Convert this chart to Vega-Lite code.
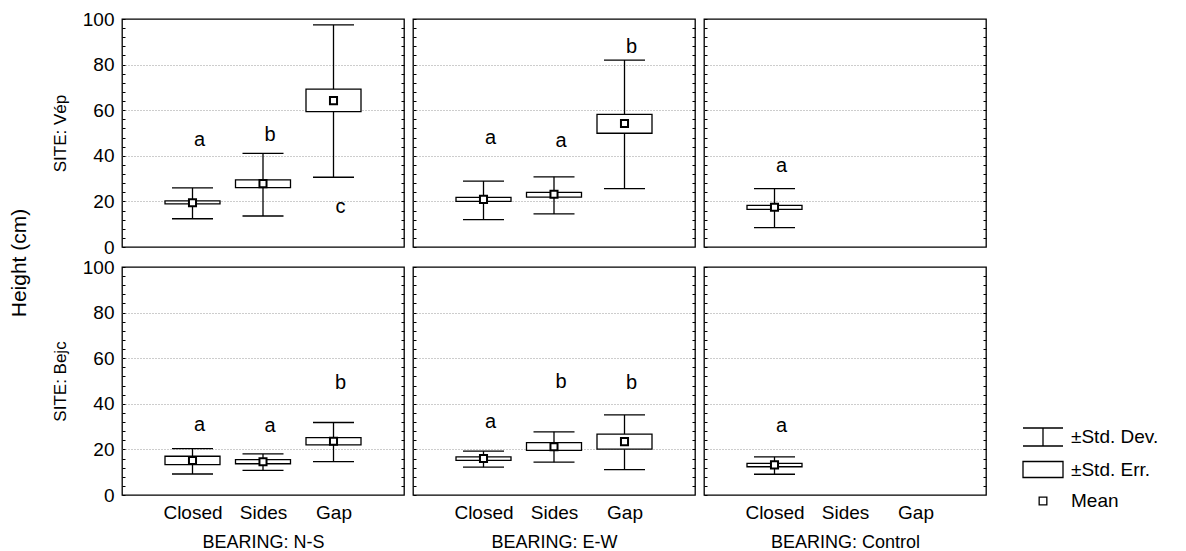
{
  "$schema": "https://vega.github.io/schema/vega-lite/v6.json",
  "padding": {"left": 0, "top": 9, "right": 5, "bottom": 0},
  "data": {"values": [
    {"site": "Vép", "bearing": "N-S", "cond": "Closed", "mean": 19.4, "se_lo": 18.9, "se_hi": 20.2, "sd_lo": 12.4, "sd_hi": 25.9, "letter": "a", "letter_y": 44.3},
    {"site": "Vép", "bearing": "N-S", "cond": "Sides", "mean": 27.8, "se_lo": 26.0, "se_hi": 29.4, "sd_lo": 13.6, "sd_hi": 41.1, "letter": "b", "letter_y": 46.6},
    {"site": "Vép", "bearing": "N-S", "cond": "Gap", "mean": 64.2, "se_lo": 59.4, "se_hi": 69.2, "sd_lo": 30.6, "sd_hi": 97.4, "letter": "c", "letter_y": 14.8},
    {"site": "Vép", "bearing": "E-W", "cond": "Closed", "mean": 20.9, "se_lo": 20.0, "se_hi": 21.8, "sd_lo": 12.0, "sd_hi": 28.9, "letter": "a", "letter_y": 45.0},
    {"site": "Vép", "bearing": "E-W", "cond": "Sides", "mean": 23.1, "se_lo": 21.9, "se_hi": 24.0, "sd_lo": 14.5, "sd_hi": 30.8, "letter": "a", "letter_y": 44.0},
    {"site": "Vép", "bearing": "E-W", "cond": "Gap", "mean": 54.2, "se_lo": 49.9, "se_hi": 58.2, "sd_lo": 25.6, "sd_hi": 82.0, "letter": "b", "letter_y": 85.0},
    {"site": "Vép", "bearing": "Control", "cond": "Closed", "mean": 17.4, "se_lo": 16.5, "se_hi": 18.3, "sd_lo": 8.5, "sd_hi": 25.6, "letter": "a", "letter_y": 32.8},
    {"site": "Bejc", "bearing": "N-S", "cond": "Closed", "mean": 15.1, "se_lo": 13.3, "se_hi": 17.0, "sd_lo": 9.2, "sd_hi": 20.3, "letter": "a", "letter_y": 28.2},
    {"site": "Bejc", "bearing": "N-S", "cond": "Sides", "mean": 14.6, "se_lo": 13.7, "se_hi": 15.5, "sd_lo": 10.8, "sd_hi": 18.0, "letter": "a", "letter_y": 27.5},
    {"site": "Bejc", "bearing": "N-S", "cond": "Gap", "mean": 23.6, "se_lo": 22.0, "se_hi": 25.2, "sd_lo": 14.6, "sd_hi": 31.8, "letter": "b", "letter_y": 46.6},
    {"site": "Bejc", "bearing": "E-W", "cond": "Closed", "mean": 16.0, "se_lo": 15.2, "se_hi": 16.7, "sd_lo": 12.2, "sd_hi": 19.2, "letter": "a", "letter_y": 29.3},
    {"site": "Bejc", "bearing": "E-W", "cond": "Sides", "mean": 21.2, "se_lo": 19.6, "se_hi": 23.0, "sd_lo": 14.4, "sd_hi": 27.7, "letter": "b", "letter_y": 47.1},
    {"site": "Bejc", "bearing": "E-W", "cond": "Gap", "mean": 23.4, "se_lo": 20.1, "se_hi": 26.7, "sd_lo": 11.1, "sd_hi": 35.1, "letter": "b", "letter_y": 46.4},
    {"site": "Bejc", "bearing": "Control", "cond": "Closed", "mean": 13.2, "se_lo": 12.4, "se_hi": 13.9, "sd_lo": 9.1, "sd_hi": 16.7, "letter": "a", "letter_y": 27.8}
  ]},
  "spacing": 10,
  "hconcat": [
    {
      "width": 40, "height": 488,
      "view": {"stroke": null},
      "data": {"values": [{"t": "Height (cm)"}]},
      "mark": {"type": "text", "angle": 270, "fontSize": 21, "color": "black", "font": "Liberation Sans"},
      "encoding": {"text": {"field": "t"}}
    },
    {
      "columns": 3,
      "spacing": {"row": 20, "column": 9},
      "bounds": "flush",
      "concat": [
        {
          "width": 282, "height": 228,
          "transform": [{"filter": "datum.site === 'Vép' && datum.bearing === 'N-S'"}],
          "layer": [
            {"mark": {"type": "rule", "opacity": 0}, "encoding": {"y": {"datum": 0, "type": "quantitative", "scale": {"domain": [0, 100], "nice": false, "zero": false}, "axis": {"orient": "right", "values": [4,8,12,16,20,24,28,32,36,40,44,48,52,56,60,64,68,72,76,80,84,88,92,96], "labels": false, "domain": false, "grid": false, "tickSize": -3, "title": null}}}},
            {"mark": {"type": "rule", "color": "black", "strokeWidth": 1.3}, "encoding": {
              "x": {"field": "cond", "type": "nominal", "scale": {"type": "point", "domain": ["Closed", "Sides", "Gap"], "padding": 1}, "axis": null},
              "y": {"field": "sd_lo", "type": "quantitative", "scale": {"domain": [0, 100], "nice": false, "zero": false}, "axis": {"orient": "left", "values": [0,4,8,12,16,20,24,28,32,36,40,44,48,52,56,60,64,68,72,76,80,84,88,92,96,100], "labelExpr": "datum.value % 20 === 0 ? datum.label : ''", "labelOverlap": false, "labelFontSize": 19, "labelPadding": 11, "tickSize": -3, "domain": false, "grid": true, "gridOpacity": {"condition": {"test": "datum.value % 20 === 0 && datum.value > 0 && datum.value < 100", "value": 1}, "value": 0}, "title": "SITE: Vép", "titleFontSize": 17, "titlePadding": 13}},
              "y2": {"field": "sd_hi"}}},
            {"mark": {"type": "tick", "orient": "horizontal", "size": 41, "thickness": 1.3, "color": "black", "opacity": 1}, "encoding": {"x": {"field": "cond", "type": "nominal", "axis": null}, "y": {"field": "sd_lo", "type": "quantitative", "axis": null}}},
            {"mark": {"type": "tick", "orient": "horizontal", "size": 41, "thickness": 1.3, "color": "black", "opacity": 1}, "encoding": {"x": {"field": "cond", "type": "nominal", "axis": null}, "y": {"field": "sd_hi", "type": "quantitative", "axis": null}}},
            {"mark": {"type": "bar", "width": 55, "fill": "white", "stroke": "black", "strokeWidth": 1.3}, "encoding": {"x": {"field": "cond", "type": "nominal", "axis": null}, "y": {"field": "se_lo", "type": "quantitative", "axis": null}, "y2": {"field": "se_hi"}}},
            {"mark": {"type": "square", "size": 50, "filled": true, "fill": "white", "stroke": "black", "strokeWidth": 2, "opacity": 1}, "encoding": {"x": {"field": "cond", "type": "nominal", "axis": null}, "y": {"field": "mean", "type": "quantitative", "axis": null}}},
            {"mark": {"type": "text", "fontSize": 20, "dx": 7, "baseline": "alphabetic", "color": "black"}, "encoding": {"x": {"field": "cond", "type": "nominal", "axis": null}, "y": {"field": "letter_y", "type": "quantitative", "axis": null}, "text": {"field": "letter"}}}
          ],
          "resolve": {"axis": {"x": "independent", "y": "independent"}}
        },
        {
          "width": 282, "height": 228,
          "transform": [{"filter": "datum.site === 'Vép' && datum.bearing === 'E-W'"}],
          "layer": [
            {"mark": {"type": "rule", "opacity": 0}, "encoding": {"y": {"datum": 0, "type": "quantitative", "scale": {"domain": [0, 100], "nice": false, "zero": false}, "axis": {"orient": "right", "values": [4,8,12,16,20,24,28,32,36,40,44,48,52,56,60,64,68,72,76,80,84,88,92,96], "labels": false, "domain": false, "grid": false, "tickSize": -3, "title": null}}}},
            {"mark": {"type": "rule", "color": "black", "strokeWidth": 1.3}, "encoding": {
              "x": {"field": "cond", "type": "nominal", "scale": {"type": "point", "domain": ["Closed", "Sides", "Gap"], "padding": 1}, "axis": null},
              "y": {"field": "sd_lo", "type": "quantitative", "scale": {"domain": [0, 100], "nice": false, "zero": false}, "axis": {"orient": "left", "values": [0,4,8,12,16,20,24,28,32,36,40,44,48,52,56,60,64,68,72,76,80,84,88,92,96,100], "labels": false, "tickSize": -3, "domain": false, "grid": true, "gridOpacity": {"condition": {"test": "datum.value % 20 === 0 && datum.value > 0 && datum.value < 100", "value": 1}, "value": 0}, "title": null}},
              "y2": {"field": "sd_hi"}}},
            {"mark": {"type": "tick", "orient": "horizontal", "size": 41, "thickness": 1.3, "color": "black", "opacity": 1}, "encoding": {"x": {"field": "cond", "type": "nominal", "axis": null}, "y": {"field": "sd_lo", "type": "quantitative", "axis": null}}},
            {"mark": {"type": "tick", "orient": "horizontal", "size": 41, "thickness": 1.3, "color": "black", "opacity": 1}, "encoding": {"x": {"field": "cond", "type": "nominal", "axis": null}, "y": {"field": "sd_hi", "type": "quantitative", "axis": null}}},
            {"mark": {"type": "bar", "width": 55, "fill": "white", "stroke": "black", "strokeWidth": 1.3}, "encoding": {"x": {"field": "cond", "type": "nominal", "axis": null}, "y": {"field": "se_lo", "type": "quantitative", "axis": null}, "y2": {"field": "se_hi"}}},
            {"mark": {"type": "square", "size": 50, "filled": true, "fill": "white", "stroke": "black", "strokeWidth": 2, "opacity": 1}, "encoding": {"x": {"field": "cond", "type": "nominal", "axis": null}, "y": {"field": "mean", "type": "quantitative", "axis": null}}},
            {"mark": {"type": "text", "fontSize": 20, "dx": 7, "baseline": "alphabetic", "color": "black"}, "encoding": {"x": {"field": "cond", "type": "nominal", "axis": null}, "y": {"field": "letter_y", "type": "quantitative", "axis": null}, "text": {"field": "letter"}}}
          ],
          "resolve": {"axis": {"x": "independent", "y": "independent"}}
        },
        {
          "width": 282, "height": 228,
          "transform": [{"filter": "datum.site === 'Vép' && datum.bearing === 'Control'"}],
          "layer": [
            {"mark": {"type": "rule", "opacity": 0}, "encoding": {"y": {"datum": 0, "type": "quantitative", "scale": {"domain": [0, 100], "nice": false, "zero": false}, "axis": {"orient": "right", "values": [4,8,12,16,20,24,28,32,36,40,44,48,52,56,60,64,68,72,76,80,84,88,92,96], "labels": false, "domain": false, "grid": false, "tickSize": -3, "title": null}}}},
            {"mark": {"type": "rule", "color": "black", "strokeWidth": 1.3}, "encoding": {
              "x": {"field": "cond", "type": "nominal", "scale": {"type": "point", "domain": ["Closed", "Sides", "Gap"], "padding": 1}, "axis": null},
              "y": {"field": "sd_lo", "type": "quantitative", "scale": {"domain": [0, 100], "nice": false, "zero": false}, "axis": {"orient": "left", "values": [0,4,8,12,16,20,24,28,32,36,40,44,48,52,56,60,64,68,72,76,80,84,88,92,96,100], "labels": false, "tickSize": -3, "domain": false, "grid": true, "gridOpacity": {"condition": {"test": "datum.value % 20 === 0 && datum.value > 0 && datum.value < 100", "value": 1}, "value": 0}, "title": null}},
              "y2": {"field": "sd_hi"}}},
            {"mark": {"type": "tick", "orient": "horizontal", "size": 41, "thickness": 1.3, "color": "black", "opacity": 1}, "encoding": {"x": {"field": "cond", "type": "nominal", "axis": null}, "y": {"field": "sd_lo", "type": "quantitative", "axis": null}}},
            {"mark": {"type": "tick", "orient": "horizontal", "size": 41, "thickness": 1.3, "color": "black", "opacity": 1}, "encoding": {"x": {"field": "cond", "type": "nominal", "axis": null}, "y": {"field": "sd_hi", "type": "quantitative", "axis": null}}},
            {"mark": {"type": "bar", "width": 55, "fill": "white", "stroke": "black", "strokeWidth": 1.3}, "encoding": {"x": {"field": "cond", "type": "nominal", "axis": null}, "y": {"field": "se_lo", "type": "quantitative", "axis": null}, "y2": {"field": "se_hi"}}},
            {"mark": {"type": "square", "size": 50, "filled": true, "fill": "white", "stroke": "black", "strokeWidth": 2, "opacity": 1}, "encoding": {"x": {"field": "cond", "type": "nominal", "axis": null}, "y": {"field": "mean", "type": "quantitative", "axis": null}}},
            {"mark": {"type": "text", "fontSize": 20, "dx": 7, "baseline": "alphabetic", "color": "black"}, "encoding": {"x": {"field": "cond", "type": "nominal", "axis": null}, "y": {"field": "letter_y", "type": "quantitative", "axis": null}, "text": {"field": "letter"}}}
          ],
          "resolve": {"axis": {"x": "independent", "y": "independent"}}
        },
        {
          "width": 282, "height": 228,
          "transform": [{"filter": "datum.site === 'Bejc' && datum.bearing === 'N-S'"}],
          "layer": [
            {"mark": {"type": "rule", "opacity": 0}, "encoding": {"y": {"datum": 0, "type": "quantitative", "scale": {"domain": [0, 100], "nice": false, "zero": false}, "axis": {"orient": "right", "values": [4,8,12,16,20,24,28,32,36,40,44,48,52,56,60,64,68,72,76,80,84,88,92,96], "labels": false, "domain": false, "grid": false, "tickSize": -3, "title": null}}}},
            {"mark": {"type": "rule", "color": "black", "strokeWidth": 1.3}, "encoding": {
              "x": {"field": "cond", "type": "nominal", "scale": {"type": "point", "domain": ["Closed", "Sides", "Gap"], "padding": 1}, "axis": {"orient": "bottom", "labelFontSize": 19, "labelPadding": 8, "labelAngle": 0, "ticks": false, "domain": false, "grid": false, "title": "BEARING: N-S", "titleFontSize": 18, "titlePadding": 11}},
              "y": {"field": "sd_lo", "type": "quantitative", "scale": {"domain": [0, 100], "nice": false, "zero": false}, "axis": {"orient": "left", "values": [0,4,8,12,16,20,24,28,32,36,40,44,48,52,56,60,64,68,72,76,80,84,88,92,96,100], "labelExpr": "datum.value % 20 === 0 ? datum.label : ''", "labelOverlap": false, "labelFontSize": 19, "labelPadding": 11, "tickSize": -3, "domain": false, "grid": true, "gridOpacity": {"condition": {"test": "datum.value % 20 === 0 && datum.value > 0 && datum.value < 100", "value": 1}, "value": 0}, "title": "SITE: Bejc", "titleFontSize": 17, "titlePadding": 13}},
              "y2": {"field": "sd_hi"}}},
            {"mark": {"type": "tick", "orient": "horizontal", "size": 41, "thickness": 1.3, "color": "black", "opacity": 1}, "encoding": {"x": {"field": "cond", "type": "nominal", "axis": null}, "y": {"field": "sd_lo", "type": "quantitative", "axis": null}}},
            {"mark": {"type": "tick", "orient": "horizontal", "size": 41, "thickness": 1.3, "color": "black", "opacity": 1}, "encoding": {"x": {"field": "cond", "type": "nominal", "axis": null}, "y": {"field": "sd_hi", "type": "quantitative", "axis": null}}},
            {"mark": {"type": "bar", "width": 55, "fill": "white", "stroke": "black", "strokeWidth": 1.3}, "encoding": {"x": {"field": "cond", "type": "nominal", "axis": null}, "y": {"field": "se_lo", "type": "quantitative", "axis": null}, "y2": {"field": "se_hi"}}},
            {"mark": {"type": "square", "size": 50, "filled": true, "fill": "white", "stroke": "black", "strokeWidth": 2, "opacity": 1}, "encoding": {"x": {"field": "cond", "type": "nominal", "axis": null}, "y": {"field": "mean", "type": "quantitative", "axis": null}}},
            {"mark": {"type": "text", "fontSize": 20, "dx": 7, "baseline": "alphabetic", "color": "black"}, "encoding": {"x": {"field": "cond", "type": "nominal", "axis": null}, "y": {"field": "letter_y", "type": "quantitative", "axis": null}, "text": {"field": "letter"}}}
          ],
          "resolve": {"axis": {"x": "independent", "y": "independent"}}
        },
        {
          "width": 282, "height": 228,
          "transform": [{"filter": "datum.site === 'Bejc' && datum.bearing === 'E-W'"}],
          "layer": [
            {"mark": {"type": "rule", "opacity": 0}, "encoding": {"y": {"datum": 0, "type": "quantitative", "scale": {"domain": [0, 100], "nice": false, "zero": false}, "axis": {"orient": "right", "values": [4,8,12,16,20,24,28,32,36,40,44,48,52,56,60,64,68,72,76,80,84,88,92,96], "labels": false, "domain": false, "grid": false, "tickSize": -3, "title": null}}}},
            {"mark": {"type": "rule", "color": "black", "strokeWidth": 1.3}, "encoding": {
              "x": {"field": "cond", "type": "nominal", "scale": {"type": "point", "domain": ["Closed", "Sides", "Gap"], "padding": 1}, "axis": {"orient": "bottom", "labelFontSize": 19, "labelPadding": 8, "labelAngle": 0, "ticks": false, "domain": false, "grid": false, "title": "BEARING: E-W", "titleFontSize": 18, "titlePadding": 11}},
              "y": {"field": "sd_lo", "type": "quantitative", "scale": {"domain": [0, 100], "nice": false, "zero": false}, "axis": {"orient": "left", "values": [0,4,8,12,16,20,24,28,32,36,40,44,48,52,56,60,64,68,72,76,80,84,88,92,96,100], "labels": false, "tickSize": -3, "domain": false, "grid": true, "gridOpacity": {"condition": {"test": "datum.value % 20 === 0 && datum.value > 0 && datum.value < 100", "value": 1}, "value": 0}, "title": null}},
              "y2": {"field": "sd_hi"}}},
            {"mark": {"type": "tick", "orient": "horizontal", "size": 41, "thickness": 1.3, "color": "black", "opacity": 1}, "encoding": {"x": {"field": "cond", "type": "nominal", "axis": null}, "y": {"field": "sd_lo", "type": "quantitative", "axis": null}}},
            {"mark": {"type": "tick", "orient": "horizontal", "size": 41, "thickness": 1.3, "color": "black", "opacity": 1}, "encoding": {"x": {"field": "cond", "type": "nominal", "axis": null}, "y": {"field": "sd_hi", "type": "quantitative", "axis": null}}},
            {"mark": {"type": "bar", "width": 55, "fill": "white", "stroke": "black", "strokeWidth": 1.3}, "encoding": {"x": {"field": "cond", "type": "nominal", "axis": null}, "y": {"field": "se_lo", "type": "quantitative", "axis": null}, "y2": {"field": "se_hi"}}},
            {"mark": {"type": "square", "size": 50, "filled": true, "fill": "white", "stroke": "black", "strokeWidth": 2, "opacity": 1}, "encoding": {"x": {"field": "cond", "type": "nominal", "axis": null}, "y": {"field": "mean", "type": "quantitative", "axis": null}}},
            {"mark": {"type": "text", "fontSize": 20, "dx": 7, "baseline": "alphabetic", "color": "black"}, "encoding": {"x": {"field": "cond", "type": "nominal", "axis": null}, "y": {"field": "letter_y", "type": "quantitative", "axis": null}, "text": {"field": "letter"}}}
          ],
          "resolve": {"axis": {"x": "independent", "y": "independent"}}
        },
        {
          "width": 282, "height": 228,
          "transform": [{"filter": "datum.site === 'Bejc' && datum.bearing === 'Control'"}],
          "layer": [
            {"mark": {"type": "rule", "opacity": 0}, "encoding": {"y": {"datum": 0, "type": "quantitative", "scale": {"domain": [0, 100], "nice": false, "zero": false}, "axis": {"orient": "right", "values": [4,8,12,16,20,24,28,32,36,40,44,48,52,56,60,64,68,72,76,80,84,88,92,96], "labels": false, "domain": false, "grid": false, "tickSize": -3, "title": null}}}},
            {"mark": {"type": "rule", "color": "black", "strokeWidth": 1.3}, "encoding": {
              "x": {"field": "cond", "type": "nominal", "scale": {"type": "point", "domain": ["Closed", "Sides", "Gap"], "padding": 1}, "axis": {"orient": "bottom", "labelFontSize": 19, "labelPadding": 8, "labelAngle": 0, "ticks": false, "domain": false, "grid": false, "title": "BEARING: Control", "titleFontSize": 18, "titlePadding": 11}},
              "y": {"field": "sd_lo", "type": "quantitative", "scale": {"domain": [0, 100], "nice": false, "zero": false}, "axis": {"orient": "left", "values": [0,4,8,12,16,20,24,28,32,36,40,44,48,52,56,60,64,68,72,76,80,84,88,92,96,100], "labels": false, "tickSize": -3, "domain": false, "grid": true, "gridOpacity": {"condition": {"test": "datum.value % 20 === 0 && datum.value > 0 && datum.value < 100", "value": 1}, "value": 0}, "title": null}},
              "y2": {"field": "sd_hi"}}},
            {"mark": {"type": "tick", "orient": "horizontal", "size": 41, "thickness": 1.3, "color": "black", "opacity": 1}, "encoding": {"x": {"field": "cond", "type": "nominal", "axis": null}, "y": {"field": "sd_lo", "type": "quantitative", "axis": null}}},
            {"mark": {"type": "tick", "orient": "horizontal", "size": 41, "thickness": 1.3, "color": "black", "opacity": 1}, "encoding": {"x": {"field": "cond", "type": "nominal", "axis": null}, "y": {"field": "sd_hi", "type": "quantitative", "axis": null}}},
            {"mark": {"type": "bar", "width": 55, "fill": "white", "stroke": "black", "strokeWidth": 1.3}, "encoding": {"x": {"field": "cond", "type": "nominal", "axis": null}, "y": {"field": "se_lo", "type": "quantitative", "axis": null}, "y2": {"field": "se_hi"}}},
            {"mark": {"type": "square", "size": 50, "filled": true, "fill": "white", "stroke": "black", "strokeWidth": 2, "opacity": 1}, "encoding": {"x": {"field": "cond", "type": "nominal", "axis": null}, "y": {"field": "mean", "type": "quantitative", "axis": null}}},
            {"mark": {"type": "text", "fontSize": 20, "dx": 7, "baseline": "alphabetic", "color": "black"}, "encoding": {"x": {"field": "cond", "type": "nominal", "axis": null}, "y": {"field": "letter_y", "type": "quantitative", "axis": null}, "text": {"field": "letter"}}},
            {
              "data": {"values": [{"item": "±Std. Dev."}, {"item": "±Std. Err."}, {"item": "Mean"}]},
              "mark": {"type": "point", "filled": false, "color": "black", "opacity": 0, "strokeWidth": 1.3},
              "encoding": {"shape": {"field": "item", "type": "nominal", "scale": {"domain": ["±Std. Dev.", "±Std. Err.", "Mean"], "range": ["M-1.25,-0.5625H1.25M-1.25,0.5625H1.25M0,-0.5625V0.5625", "M-1.25,-0.5H1.25V0.5H-1.25Z", "M-0.24,-0.24H0.24V0.24H-0.24Z"]}, "legend": {"title": null, "orient": "none", "legendX": 1026, "legendY": 401, "padding": 0, "symbolSize": 1024, "symbolStrokeColor": "black", "symbolStrokeWidth": 1.3, "symbolFillColor": "white", "symbolOpacity": 1, "labelFontSize": 19, "labelFont": "Liberation Sans", "labelColor": "black", "labelOffset": 11, "rowPadding": 3.5}}}
            }
          ],
          "resolve": {"axis": {"x": "independent", "y": "independent"}}
        }
      ]
    }
  ],
  "config": {
    "font": "Liberation Sans",
    "view": {"stroke": "black", "strokeWidth": 1.3},
    "axis": {"labelFont": "Liberation Sans", "titleFont": "Liberation Sans", "labelColor": "black", "titleColor": "black", "tickColor": "black", "tickWidth": 1, "titleFontWeight": "normal", "gridColor": "#9a9a9a", "gridDash": [1, 2], "gridWidth": 1}
  }
}
